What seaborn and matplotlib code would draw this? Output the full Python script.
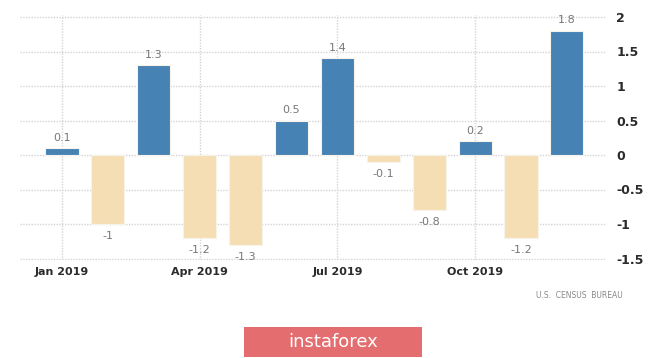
import numpy as np
import pandas as pd
import seaborn as sns
import matplotlib.pyplot as plt
from matplotlib.patches import Rectangle

# data
months = ['Jan', 'Feb', 'Mar', 'Apr', 'May', 'Jun', 'Jul', 'Aug', 'Sep', 'Oct', 'Nov', 'Dec']
values = [0.1, -1, 1.3, -1.2, -1.3, 0.5, 1.4, -0.1, -0.8, 0.2, -1.2, 1.8]
tick_pos = [0, 3, 6, 9]
tick_labels = ['Jan 2019', 'Apr 2019', 'Jul 2019', 'Oct 2019']
y_ticks = [2, 1.5, 1, 0.5, 0, -0.5, -1, -1.5]

df = pd.DataFrame({'month': months, 'value': values})
df['sign'] = np.where(df['value'] >= 0, 'pos', 'neg')

sns.set_style('white')
plt.rcParams['font.family'] = ['DejaVu Sans']

fig = plt.figure(figsize=(6.65, 3.58), dpi=100)
ax = fig.add_axes([20 / 665, 1 - 260 / 358, 585 / 665, (260 - 15) / 358])

sns.barplot(data=df, x='month', y='value', hue='sign', palette={'pos': '#4682b4', 'neg': '#f5deb3'},
            saturation=1, width=0.72, dodge=False, legend=False, ax=ax,
            edgecolor='#f7f3ea', linewidth=0.8)

ax.set_xlim(-0.915, 11.83)
ax.set_ylim(-1.5 - 1.5 / 69, 2 + 2 / 69)

# grid
ax.set_yticks(y_ticks)
ax.set_xticks(tick_pos)
ax.set_xticklabels(tick_labels, fontsize=8, color='#2b2b2b', fontweight='semibold')
ax.set_yticklabels([f'{t:g}' for t in y_ticks], fontsize=9, color='#2b2b2b', fontweight='semibold')
ax.yaxis.tick_right()
ax.tick_params(axis='both', length=0, pad=4)
ax.tick_params(axis='x', pad=5)
ax.tick_params(axis='y', pad=8)
ax.grid(True, color='#d4d4d4', linestyle=(0, (1, 1)), linewidth=1.0)
ax.set_axisbelow(True)
for s in ax.spines.values():
    s.set_visible(False)
ax.set_xlabel('')
ax.set_ylabel('')

# value labels
for i, v in enumerate(values):
    if v >= 0:
        ax.annotate(f'{v:g}', (i, v), xytext=(0, 4), textcoords='offset points',
                    ha='center', va='bottom', fontsize=8, color='#777777')
    else:
        ax.annotate(f'{v:g}', (i, v), xytext=(0, -5), textcoords='offset points',
                    ha='center', va='top', fontsize=8, color='#777777')

fig.text(623 / 665, 1 - 296 / 358, 'U.S.  CENSUS  BUREAU', ha='right', va='center',
         fontsize=5.5, color='#888888')

# logo
fig.patches.append(Rectangle((244 / 665, 1 - 357 / 358), 178 / 665, 30 / 358,
                             transform=fig.transFigure, facecolor='#e46d6f', edgecolor='none'))
fig.text(333 / 665, 1 - 342 / 358, 'instaforex', ha='center', va='center',
         fontsize=13, color='white')

fig.savefig('out.png', dpi=100)
